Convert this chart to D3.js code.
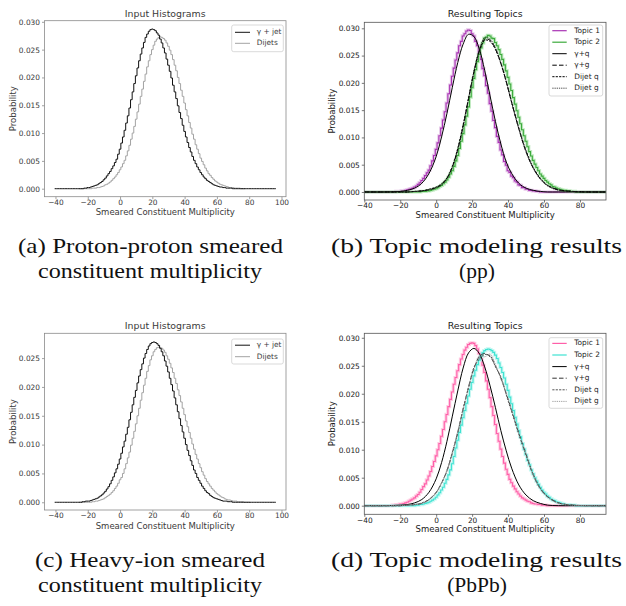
<!DOCTYPE html>
<html>
<head>
<meta charset="utf-8">
<script src="https://cdn.jsdelivr.net/npm/d3@7"></script>
<style>
  body { margin: 0; background: #fff; }
  svg { display: block; }
</style>
</head>
<body>
<script>
// histogram values are per unit-wide bin, in units of 1e-4 (bin centres start at *Start)
const ppJetRange = [-40, 96];
const ppJetStart = -22;
const ppJet = [1,1,2,2,3,4,5,6,7,9,11,13,16,19,23,27,31,36,41,47,53,62,71,82,93,105,118,131,145,160,174,189,203,217,230,242,253,263,272,278,283,286,
  287,
  286,284,280,276,269,262,253,244,233,222,211,199,186,174,162,149,137,126,114,103,93,83,74,66,58,51,45,39,34,29,25,21,18,15,13,11,9,7,6,5,4,3,3,2,2,1,1,1,1,0];

const ppDijetRange = [-25, 77];
const ppDijetStart = -17;
const ppDijet = [1,1,1,2,2,3,4,5,7,8,10,12,15,18,21,25,29,34,39,45,51,59,68,78,89,100,112,125,138,152,166,179,193,206,219,230,241,250,258,265,269,272,
  273,
  272,270,267,262,256,249,241,232,222,212,200,189,177,166,154,142,131,119,109,98,89,79,71,63,55,49,43,37,32,27,24,20,17,14,12,10,8,7,6,5,4,3,2,2,2,1,1,1,1,0];

const hiJetRange = [-40, 96];
const hiJetStart = -23;
const hiJet = [1,1,2,2,2,3,4,5,6,7,9,11,13,16,19,23,27,32,38,44,51,58,66,75,85,96,106,118,130,143,156,169,182,194,207,219,230,240,250,258,265,271,275,277,
  278,
  277,275,272,267,261,254,245,236,226,215,204,193,181,169,157,145,133,122,111,100,90,81,72,64,56,50,43,38,33,28,24,20,17,15,12,10,8,7,6,5,4,3,2,2,2,1,1,1,0];

const hiDijetRange = [-25, 80];
const hiDijetStart = -17;
const hiDijet = [1,1,2,2,3,4,5,6,8,10,12,14,17,20,24,28,33,39,43,50,58,67,77,87,99,111,123,136,150,163,177,190,203,215,227,237,247,254,261,265,268,
  269,
  268,267,264,260,254,248,241,233,225,215,206,195,185,174,163,152,141,131,121,111,101,92,83,75,67,60,53,47,41,36,32,28,24,21,18,15,13,11,9,8,6,5,4,4,3,2,2,2,1,1,1,1,0];

const topicRange = [-40, 96];
const ppTopic1Start = -22;
const ppTopic1 = [1,1,1,2,2,3,4,5,6,7,9,11,14,17,21,25,30,35,40,48,57,67,78,90,103,117,132,147,163,180,196,212,227,242,255,268,276,286,290,295,
  297,
  296,290,286,276,268,254,243,226,213,195,181,162,148,131,118,102,91,77,68,56,49,39,36,29,26,20,18,13,12,8,8,5,5,3,3,2,2,1,1,0];
const ppTopic2Start = -8;
const ppTopic2 = [1,1,1,2,2,3,4,5,6,8,10,12,15,18,22,27,33,39,47,57,67,80,93,107,123,139,156,174,191,208,224,239,252,264,273,282,284,
  287,
  286,282,281,274,268,261,252,243,233,222,210,198,186,173,161,149,137,125,114,103,93,83,74,66,58,51,45,39,33,29,25,21,18,15,13,10,9,7,6,5,4,3,3,2,2,1,1,1,0];

const hiTopic1Start = -24;
const hiTopic1 = [1,1,2,2,3,3,4,5,6,8,10,12,14,17,20,24,29,34,39,46,53,61,70,79,89,100,111,124,136,150,163,177,190,203,217,229,241,252,262,270,278,283,288,290,
  291,
  290,286,280,272,262,251,238,223,208,193,177,161,145,129,115,101,88,76,65,56,47,41,35,30,25,21,17,14,12,10,8,7,5,4,3,3,2,2,1,1,1,0];
const hiTopic2Start = -11;
const hiTopic2 = [1,1,2,2,3,4,5,6,8,10,12,15,19,23,28,33,40,47,55,64,75,88,103,117,131,144,157,170,183,196,208,220,232,242,252,260,267,273,277,279,
  280,
  279,277,274,269,263,255,247,238,228,217,206,194,182,170,158,146,134,123,111,101,91,81,73,64,57,50,44,38,33,28,24,21,17,15,12,10,9,7,6,5,4,3,2,2,2,1,1,1,0];

// truth-level curves sampled at curveX (units of 1e-4)
const curveX = [-40,-28,-20,-16,-12,-8,-4,0,3,6,9,12,15,18,21,24,27,30,33,36,39,42,46,50,54,58,62,68,76,86,96];
const ppGammaQ = [0,0,1,3,7,16,34,65,101,144,192,237,271,289,285,262,223,176,129,88,55,34,16,7,3,1,0,0,0,0,0];
const ppGammaG = [0,0,0,0,1,2,4,8,14,25,46,78,121,171,220,259,280,278,262,236,202,164,116,74,44,24,12,4,1,0,0];
const ppDijetQ = [0,0,0,0,1,2,5,9,15,26,47,80,123,172,219,257,278,276,261,235,202,165,117,76,45,25,12,4,1,0,0];
const ppDijetG = [0,0,0,0,1,2,4,8,13,24,45,76,119,170,221,261,283,280,264,237,203,163,115,73,43,23,11,3,1,0,0];
const hiGammaQ = [0,0,1,2,5,11,24,48,77,115,160,205,246,273,281,272,248,214,175,134,98,67,37,19,9,4,1,0,0,0,0];
const hiGammaG = [0,0,0,1,2,4,11,24,40,63,94,131,172,212,245,266,272,266,250,228,200,170,129,92,55,30,16,5,1,0,0];
const hiDijetQ = [0,0,0,1,2,5,11,23,41,62,96,130,174,210,247,262,270,268,248,230,198,168,128,90,56,31,16,5,1,0,0];
const hiDijetG = [0,0,0,1,2,4,10,24,40,64,93,133,170,213,243,268,266,271,252,226,201,171,127,93,54,29,15,4,1,0,0];

const inputXTicks = [-40, -20, 0, 20, 40, 60, 80, 100];
const topicXTicks = [-40, -20, 0, 20, 40, 60, 80];
const probTicksA = [0, 0.005, 0.010, 0.015, 0.020, 0.025, 0.030];
const probTicksC = [0, 0.005, 0.010, 0.015, 0.020, 0.025];

const captions = [
  ["(a) Proton-proton smeared", "constituent multiplicity"],
  ["(b) Topic modeling results", "(pp)"],
  ["(c) Heavy-ion smeared", "constituent multiplicity"],
  ["(d) Topic modeling results", "(PbPb)"]
];

const UNIT = 1e-4;
const W = 626, H = 606;
const svg = d3.select("body").append("svg").attr("width", W).attr("height", H);

function histPoints(vals, start, range) {
  const pts = [];
  let v = 0;
  for (let x = range[0]; x <= range[1]; x++) {
    const i = x - start;
    v = (i >= 0 && i < vals.length) ? vals[i] * UNIT : 0;
    pts.push([x - 0.5, v]);
  }
  pts.push([range[1] + 0.5, v]);
  return pts;
}

let clipId = 0;
function panel(cfg) {
  const x = d3.scaleLinear().domain(cfg.xDomain).range([cfg.left, cfg.right]);
  const y = d3.scaleLinear().domain(cfg.yDomain).range([cfg.bottom, cfg.top]);
  const g = svg.append("g");
  const id = "clip" + (clipId++);
  g.append("clipPath").attr("id", id).append("rect")
    .attr("x", cfg.left).attr("y", cfg.top)
    .attr("width", cfg.right - cfg.left).attr("height", cfg.bottom - cfg.top);
  const plot = g.append("g").attr("clip-path", "url(#" + id + ")");

  const stepLine = d3.line().x(d => x(d[0])).y(d => y(d[1])).curve(d3.curveStepAfter);
  const smoothLine = d3.line().x(d => x(d[0])).y(d => y(d[1])).curve(d3.curveCatmullRom);

  for (const s of cfg.hists) {
    const pts = histPoints(s.vals, s.start, s.range);
    if (s.band) {
      plot.append("path").attr("d", stepLine(pts)).attr("fill", "none")
        .attr("stroke", s.band).attr("stroke-width", 3.2).attr("stroke-opacity", 0.7);
    }
    plot.append("path").attr("d", stepLine(pts)).attr("fill", "none")
      .attr("stroke", s.color).attr("stroke-width", s.width || 1);
  }
  for (const c of (cfg.curves || [])) {
    const pts = curveX.map((xv, i) => [xv, c.vals[i] * UNIT]);
    plot.append("path").attr("d", smoothLine(pts)).attr("fill", "none")
      .attr("stroke", c.color).attr("stroke-width", c.width || 1)
      .attr("stroke-dasharray", c.dash || null);
  }

  const fmtX = d => d < 0 ? "\u2212" + Math.abs(d) : String(d);
  const xAxis = g.append("g").attr("transform", `translate(0,${cfg.bottom})`)
    .call(d3.axisBottom(x).tickValues(cfg.xTicks).tickFormat(fmtX).tickSize(2.5).tickPadding(0.5));
  const yAxis = g.append("g").attr("transform", `translate(${cfg.left},0)`)
    .call(d3.axisLeft(y).tickValues(cfg.yTicks).tickFormat(d3.format(".3f")).tickSize(2.5).tickPadding(2));
  for (const ax of [xAxis, yAxis]) {
    ax.select(".domain").remove();
    ax.selectAll("line").attr("stroke", cfg.frame).attr("stroke-width", 0.8);
    ax.selectAll("text").attr("fill", cfg.ink).style("font", "7.4px 'DejaVu Sans'");
  }

  g.append("rect").attr("x", cfg.left).attr("y", cfg.top)
    .attr("width", cfg.right - cfg.left).attr("height", cfg.bottom - cfg.top)
    .attr("fill", "none").attr("stroke", cfg.frame).attr("stroke-width", 0.8);

  const mid = (cfg.left + cfg.right) / 2;
  g.append("text").attr("x", mid).attr("y", cfg.titleY).attr("text-anchor", "middle")
    .attr("dominant-baseline", "middle").attr("fill", cfg.ink)
    .style("font", "9.4px 'DejaVu Sans'").text(cfg.title);
  g.append("text").attr("x", mid).attr("y", cfg.xLabelY).attr("text-anchor", "middle")
    .attr("dominant-baseline", "middle").attr("fill", cfg.ink)
    .style("font", "8.5px 'DejaVu Sans'").text("Smeared Constituent Multiplicity");
  const yMid = (cfg.top + cfg.bottom) / 2;
  g.append("text").attr("transform", `translate(${cfg.yLabelX},${yMid}) rotate(-90)`)
    .attr("text-anchor", "middle").attr("dominant-baseline", "middle").attr("fill", cfg.ink)
    .style("font", "8.5px 'DejaVu Sans'").text("Probability");

  // legend
  const L = cfg.legend;
  const lg = g.append("g");
  lg.append("rect").attr("x", L.x0).attr("y", L.y0).attr("width", L.x1 - L.x0).attr("height", L.y1 - L.y0)
    .attr("rx", 2).attr("fill", "#fff").attr("fill-opacity", 0.85)
    .attr("stroke", "#cfcfcf").attr("stroke-width", 0.8);
  L.items.forEach((it, i) => {
    const yy = L.row0 + i * L.rowStep;
    lg.append("line").attr("x1", L.lineX0).attr("x2", L.lineX1).attr("y1", yy).attr("y2", yy)
      .attr("stroke", it.color).attr("stroke-width", it.width || 1)
      .attr("stroke-dasharray", it.dash || null);
    lg.append("text").attr("x", L.textX).attr("y", yy).attr("dominant-baseline", "middle")
      .attr("fill", cfg.ink).style("font", "7.4px 'DejaVu Sans'").text(it.label);
  });
}

const inkA = "#3a3a3a", frameA = "#8a8a8a";
const inkB = "#1a1a1a", frameB = "#555";
const jetColor = "#111", dijetColor = "#a3a3a3";

panel({
  left: 44.5, right: 286, top: 20.7, bottom: 196.7,
  xDomain: [-46.8, 102.8], yDomain: [-0.00144, 0.0302],
  xTicks: inputXTicks, yTicks: probTicksA,
  title: "Input Histograms", titleY: 14, xLabelY: 212.5, yLabelX: 13.3,
  ink: inkA, frame: frameA,
  hists: [
    { vals: ppDijet, start: ppDijetStart, range: ppDijetRange, color: dijetColor },
    { vals: ppJet, start: ppJetStart, range: ppJetRange, color: jetColor }
  ],
  legend: { x0: 231.7, x1: 283.3, y0: 25, y1: 51.7, row0: 32.3, rowStep: 11, lineX0: 235, lineX1: 250, textX: 256.7,
    items: [{ label: "\u03b3 + jet", color: jetColor }, { label: "Dijets", color: dijetColor }] }
});

panel({
  left: 44.5, right: 286, top: 333.3, bottom: 510,
  xDomain: [-46.8, 102.8], yDomain: [-0.00134, 0.0293],
  xTicks: inputXTicks, yTicks: probTicksC,
  title: "Input Histograms", titleY: 326.7, xLabelY: 526, yLabelX: 13.3,
  ink: inkA, frame: frameA,
  hists: [
    { vals: hiDijet, start: hiDijetStart, range: hiDijetRange, color: dijetColor },
    { vals: hiJet, start: hiJetStart, range: hiJetRange, color: jetColor }
  ],
  legend: { x0: 231.7, x1: 283.3, y0: 339, y1: 364, row0: 345.2, rowStep: 11.5, lineX0: 235, lineX1: 250, textX: 256.7,
    items: [{ label: "\u03b3 + jet", color: jetColor }, { label: "Dijets", color: dijetColor }] }
});

const purple = "#a933b4", purpleBand = "#dcb0e0";
const green = "#3caa3c", greenBand = "#a8e2a8";
const pink = "#ff5fa9", pinkBand = "#ffb6d6";
const cyan = "#3fe3d2", cyanBand = "#aef3ec";

panel({
  left: 364.3, right: 606, top: 22.3, bottom: 200,
  xDomain: [-40, 94.5], yDomain: [-0.00147, 0.0311],
  xTicks: topicXTicks, yTicks: probTicksA,
  title: "Resulting Topics", titleY: 14, xLabelY: 215.5, yLabelX: 332.3,
  ink: inkB, frame: frameB,
  hists: [
    { vals: ppTopic1, start: ppTopic1Start, range: topicRange, color: purple, band: purpleBand, width: 1.1 },
    { vals: ppTopic2, start: ppTopic2Start, range: topicRange, color: green, band: greenBand, width: 1.1 }
  ],
  curves: [
    { vals: ppGammaQ, color: "#000" },
    { vals: ppGammaG, color: "#000", dash: "4.5,2.2" },
    { vals: ppDijetQ, color: "#000", dash: "2.2,1.2" },
    { vals: ppDijetG, color: "#222", dash: "1.3,0.9", width: 0.8 }
  ],
  legend: { x0: 549, x1: 602.7, y0: 25, y1: 96, row0: 30.7, rowStep: 11.5, lineX0: 552.3, lineX1: 566.7, textX: 574.3,
    items: [
      { label: "Topic 1", color: purple, width: 1.2 },
      { label: "Topic 2", color: green, width: 1.2 },
      { label: "\u03b3+q", color: "#000" },
      { label: "\u03b3+g", color: "#000", dash: "4.5,2.2" },
      { label: "Dijet q", color: "#000", dash: "2.2,1.2" },
      { label: "Dijet g", color: "#222", dash: "1.3,0.9", width: 0.8 }
    ] }
});

panel({
  left: 364.3, right: 606, top: 333.3, bottom: 514.3,
  xDomain: [-40, 94.5], yDomain: [-0.00154, 0.0308],
  xTicks: topicXTicks, yTicks: probTicksA,
  title: "Resulting Topics", titleY: 326.7, xLabelY: 529.5, yLabelX: 332.3,
  ink: inkB, frame: frameB,
  hists: [
    { vals: hiTopic1, start: hiTopic1Start, range: topicRange, color: pink, band: pinkBand, width: 1.1 },
    { vals: hiTopic2, start: hiTopic2Start, range: topicRange, color: cyan, band: cyanBand, width: 1.1 }
  ],
  curves: [
    { vals: hiGammaQ, color: "#000" },
    { vals: hiGammaG, color: "#333", dash: "4.5,2.2" },
    { vals: hiDijetQ, color: "#555", dash: "2.2,1.2" },
    { vals: hiDijetG, color: "#999", dash: "1.3,0.9", width: 0.9 }
  ],
  legend: { x0: 549, x1: 602.7, y0: 337.7, y1: 408.3, row0: 343.4, rowStep: 11.6, lineX0: 552.3, lineX1: 566.7, textX: 574.3,
    items: [
      { label: "Topic 1", color: pink, width: 1.2 },
      { label: "Topic 2", color: cyan, width: 1.2 },
      { label: "\u03b3+q", color: "#000" },
      { label: "\u03b3+g", color: "#333", dash: "4.5,2.2" },
      { label: "Dijet q", color: "#555", dash: "2.2,1.2" },
      { label: "Dijet g", color: "#999", dash: "1.3,0.9", width: 0.9 }
    ] }
});

// sub-figure captions (serif, stretched to the widths in the reference)
const capLayout = [
  { lines: [{ x: 18, w: 265, y: 253 }, { x: 38, w: 224, y: 278 }] },
  { lines: [{ x: 331, w: 291, y: 253 }, { cx: 477, y: 278 }] },
  { lines: [{ x: 35, w: 230, y: 567 }, { x: 38, w: 224, y: 592 }] },
  { lines: [{ x: 331, w: 291, y: 567 }, { cx: 477, y: 592 }] }
];
captions.forEach((cap, ci) => {
  cap.forEach((line, li) => {
    const L = capLayout[ci].lines[li];
    const t = svg.append("text").attr("y", L.y).attr("fill", "#111")
      .style("font", "21.5px 'Liberation Serif'").text(line);
    if (L.cx !== undefined) {
      t.attr("x", L.cx).attr("text-anchor", "middle");
    } else {
      t.attr("x", L.x).attr("textLength", L.w).attr("lengthAdjust", "spacingAndGlyphs");
    }
  });
});
</script>
</body>
</html>
